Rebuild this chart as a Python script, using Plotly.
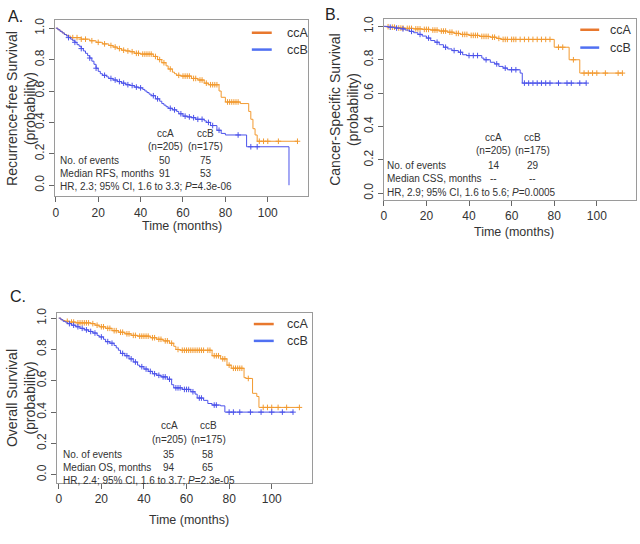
import numpy as np
import plotly.graph_objects as go

# ---------------- data ----------------
# Panel A: Recurrence-free survival
a_ccA_t = [1, 2, 3, 4, 5, 6, 7, 12, 16, 19, 22, 25, 27, 29, 31, 33, 35, 37, 40, 46, 48, 50, 52, 53, 55, 56, 57, 59, 64, 67, 70, 72, 77, 78, 80, 87, 91, 92, 93, 94, 95]
a_ccA_s = [.99, .98, .97, .96, .955, .95, .94, .93, .92, .91, .90, .89, .88, .87, .86, .855, .85, .84, .835, .82, .80, .78, .76, .74, .72, .71, .70, .695, .68, .67, .65, .64, .60, .56, .53, .52, .47, .42, .36, .32, .28]
a_ccA_c = [8, 10, 12, 14, 17, 20, 23, 26, 28, 30, 32, 34, 36, 38, 39, 41, 42, 43, 44, 45, 47, 49, 51, 54, 58, 60, 61, 62, 63, 65, 66, 68, 69, 71, 73, 74, 75, 76, 81, 82, 83, 84, 85, 86, 96, 98, 100, 105, 114]
a_ccB_t = [1, 2, 3, 4, 5, 6, 7, 8, 9, 10, 11, 12, 13, 14, 15, 16, 17, 18, 19, 20, 21, 22, 24, 25, 27, 29, 31, 33, 35, 37, 39, 41, 42, 43, 44, 45, 47, 49, 50, 51, 52, 53, 55, 57, 58, 60, 62, 64, 66, 70, 71, 73, 76, 78, 80, 90, 110]
a_ccB_s = [.99, .98, .97, .96, .95, .94, .93, .92, .91, .895, .885, .87, .855, .84, .825, .81, .79, .77, .745, .725, .71, .70, .69, .68, .67, .66, .65, .64, .635, .625, .62, .61, .60, .59, .58, .57, .55, .535, .52, .51, .50, .49, .48, .47, .455, .44, .435, .43, .42, .41, .40, .38, .35, .33, .32, .245, 0.0]
a_ccB_c = [6, 9, 12, 16, 19, 23, 26, 28, 30, 32, 34, 36, 38, 40, 46, 48, 54, 56, 59, 61, 63, 65, 67, 69, 72, 74, 77, 86, 92, 95]

# Panel B: Cancer-specific survival
b_ccA_t = [1, 3, 6, 10, 14, 18, 22, 26, 30, 33, 36, 40, 45, 50, 53, 55, 80, 87, 92]
b_ccA_s = [.998, .995, .99, .988, .985, .982, .978, .972, .965, .958, .952, .946, .94, .935, .928, .922, .875, .80, .72]
b_ccA_c = [2, 4, 5, 7, 8, 9, 11, 12, 13, 15, 16, 17, 19, 20, 21, 23, 24, 25, 27, 28, 29, 31, 32, 34, 35, 37, 38, 39, 41, 42, 43, 44, 46, 47, 48, 49, 51, 52, 54, 56, 57, 58, 60, 61, 62, 64, 66, 68, 70, 72, 74, 76, 78, 82, 84, 89, 94, 96, 98, 100, 104, 110, 112]
b_ccB_t = [2, 5, 8, 10, 12, 14, 16, 18, 20, 22, 24, 26, 28, 30, 32, 35, 37, 39, 46, 47, 50, 52, 54, 56, 58, 64, 65]
b_ccB_s = [.995, .99, .985, .978, .97, .962, .952, .942, .93, .915, .905, .89, .875, .865, .855, .845, .83, .825, .81, .80, .785, .775, .76, .75, .74, .72, .66]
b_ccB_c = [3, 6, 9, 13, 17, 21, 25, 29, 33, 36, 40, 42, 44, 48, 53, 57, 60, 62, 66, 68, 70, 72, 74, 76, 78, 82, 86, 88, 92, 95]

# Panel C: Overall survival
c_ccA_t = [1, 2, 3, 5, 8, 15, 17, 19, 22, 25, 28, 31, 34, 37, 43, 46, 49, 52, 54, 55, 57, 72, 76, 79, 81, 87, 88, 91, 93, 94]
c_ccA_s = [.99, .985, .98, .975, .97, .965, .955, .945, .935, .92, .91, .90, .89, .885, .875, .865, .855, .84, .82, .80, .795, .76, .74, .70, .68, .62, .615, .52, .50, .43]
c_ccA_c = [4, 6, 7, 9, 10, 11, 12, 13, 14, 16, 18, 20, 21, 23, 24, 26, 27, 29, 30, 32, 33, 35, 36, 38, 39, 40, 41, 42, 44, 45, 47, 48, 50, 51, 53, 56, 58, 59, 60, 61, 62, 63, 64, 65, 66, 67, 68, 70, 71, 73, 74, 75, 77, 78, 80, 82, 83, 84, 85, 86, 89, 96, 98, 100, 103, 107, 113]
c_ccB_t = [1, 2, 3, 4, 6, 8, 10, 12, 14, 16, 18, 19, 21, 22, 24, 26, 27, 28, 29, 31, 33, 35, 37, 38, 40, 42, 44, 46, 48, 51, 53, 54, 58, 62, 64, 65, 68, 70, 72, 76, 78]
c_ccB_s = [.99, .98, .975, .965, .955, .945, .935, .925, .915, .905, .89, .88, .865, .85, .84, .825, .81, .795, .775, .76, .74, .72, .70, .69, .675, .66, .645, .635, .625, .61, .575, .555, .545, .53, .515, .49, .475, .455, .445, .44, .40]
c_ccB_c = [5, 7, 9, 11, 13, 15, 17, 20, 23, 25, 30, 32, 34, 36, 39, 41, 43, 45, 47, 49, 50, 52, 55, 56, 57, 59, 60, 61, 63, 66, 67, 73, 74, 80, 82, 85, 90, 95, 100, 105, 110]

group_names = ["ccA", "ccB"]
n_labels = ["(n=205)", "(n=175)"]
y_titles = ["Recurrence-free Survival", "Cancer-Specific Survival", "Overall Survival"]
panel_letters = ["A.", "B.", "C."]
events = [["50", "75"], ["14", "29"], ["35", "58"]]
median_labels = ["Median RFS, months", "Median CSS, months", "Median OS, months"]
medians = [["91", "53"], ["--", "--"], ["94", "65"]]
hr_texts = ["HR, 2.3; 95% CI, 1.6 to 3.3; <i>P</i>=4.3e-06",
            "HR, 2.9; 95% CI, 1.6 to 5.6; <i>P</i>=0.0005",
            "HR, 2.4; 95% CI, 1.6 to 3.7; <i>P</i>=2.3e-05"]
x_ticks = [0, 20, 40, 60, 80, 100]
y_ticks = [0.0, 0.2, 0.4, 0.6, 0.8, 1.0]

curves = [
    [(a_ccA_t, a_ccA_s, a_ccA_c), (a_ccB_t, a_ccB_s, a_ccB_c)],
    [(b_ccA_t, b_ccA_s, b_ccA_c), (b_ccB_t, b_ccB_s, b_ccB_c)],
    [(c_ccA_t, c_ccA_s, c_ccA_c), (c_ccB_t, c_ccB_s, c_ccB_c)],
]

# ---------------- style / layout ----------------
W, H = 640, 544
FONT = "Liberation Sans, Arial, sans-serif"
curve_colors = ["#F29A30", "#4B52EA"]
legend_colors = ["#E8782E", "#5070F2"]
TXT = "#333333"

def px(x):
    return x / W

def py(y):
    return 1 - y / H

# panel boxes in pixels: left, right, top, bottom ; axis ranges
panels = [
    dict(box=(52, 306.5, 15, 193), xr=[-0.5, 119], yr=[-0.07, 1.053],
         ytl=18, xt=(180, 223), leg=(250, 270, 283, 28, 45), letter=(3, 12),
         txt=dict(left=55, cA=163, cB=203.5, ys=[129.5, 143, 157, 170.5, 183.5])),
    dict(box=(382.3, 636, 14, 196.7), xr=[-0.15, 118.4], yr=[-0.04, 1.045],
         ytl=343, xt=(513, 229), leg=(580, 599, 608, 25, 43), letter=(322, 10),
         txt=dict(left=384, cA=493, cB=532, ys=[133.3, 146.7, 161.7, 174.8, 189])),
    dict(box=(54.3, 310, 311, 482.5), xr=[-0.8, 118.7], yr=[-0.053, 1.032],
         ytl=18, xt=(187, 520), leg=(252, 272, 283, 322, 339), letter=(5, 294),
         txt=dict(left=58.3, cA=167, cB=206, ys=[424, 439, 453.3, 466.7, 479.5])),
]

fig = go.Figure()
annotations = []
shapes = []

def step_value(t_arr, s_arr, t):
    idx = np.searchsorted(np.asarray(t_arr), t, side="right") - 1
    s = np.asarray(s_arr, dtype=float)
    return np.where(idx >= 0, s[np.clip(idx, 0, None)], 1.0)

for i, (pan, crv) in enumerate(zip(panels, curves)):
    xa = "x" if i == 0 else f"x{i+1}"
    ya = "y" if i == 0 else f"y{i+1}"
    for g, (t, s, c) in enumerate(crv):
        tmax = max(max(t), max(c))
        xs = [0] + list(t) + [tmax]
        ys = [1.0] + list(s) + [s[-1]]
        fig.add_trace(go.Scatter(x=xs, y=ys, mode="lines", line=dict(color=curve_colors[g], width=1, shape="hv"),
                                 xaxis=xa, yaxis=ya, showlegend=False, hoverinfo="skip"))
        cy = step_value(t, s, np.asarray(c, dtype=float))
        fig.add_trace(go.Scatter(x=c, y=cy, mode="markers",
                                 marker=dict(symbol="cross-thin", size=4, line=dict(color=curve_colors[g], width=1)),
                                 xaxis=xa, yaxis=ya, showlegend=False, hoverinfo="skip"))
    l, r, t_, b = pan["box"]
    axis_common = dict(showgrid=False, zeroline=False, showline=True, mirror=True, linecolor="#9a9a9a", linewidth=1,
                       ticks="outside", ticklen=5, tickcolor="#666666", tickwidth=1,
                       tickfont=dict(family=FONT, size=12, color=TXT))
    fig.update_layout(**{
        ("xaxis" if i == 0 else f"xaxis{i+1}"): dict(domain=[px(l), px(r)], range=pan["xr"], anchor=ya,
                                                     tickvals=x_ticks, **axis_common),
        ("yaxis" if i == 0 else f"yaxis{i+1}"): dict(domain=[py(b), py(t_)], range=pan["yr"], anchor=xa,
                                                     tickvals=y_ticks, ticktext=[f"{v:.1f}" for v in y_ticks],
                                                     tickangle=-90, **axis_common),
    })
    # y title (two lines)
    yc = (t_ + b) / 2
    annotations.append(dict(text=y_titles[i] + "<br>(probability)", x=px(pan["ytl"]), y=py(yc),
                            xref="paper", yref="paper", textangle=-90, showarrow=False,
                            xanchor="center", yanchor="middle",
                            font=dict(family=FONT, size=14, color=TXT)))
    # x title
    annotations.append(dict(text="Time (months)", x=px(pan["xt"][0]), y=py(pan["xt"][1]), xref="paper", yref="paper",
                            showarrow=False, xanchor="center", yanchor="middle",
                            font=dict(family=FONT, size=12.5, color=TXT)))
    # panel letter
    annotations.append(dict(text=panel_letters[i], x=px(pan["letter"][0]), y=py(pan["letter"][1]),
                            xref="paper", yref="paper", showarrow=False, xanchor="left", yanchor="middle",
                            font=dict(family=FONT, size=16, color="#222222")))
    # legend
    lx0, lx1, ltx, ly1, ly2 = pan["leg"]
    for g, ly in enumerate([ly1, ly2]):
        shapes.append(dict(type="line", xref="paper", yref="paper", x0=px(lx0), x1=px(lx1), y0=py(ly), y1=py(ly),
                           line=dict(color=legend_colors[g], width=2.5)))
        annotations.append(dict(text=group_names[g], x=px(ltx), y=py(ly), xref="paper", yref="paper",
                                showarrow=False, xanchor="left", yanchor="middle",
                                font=dict(family=FONT, size=12.5, color=TXT)))
    # inner table text
    tx = pan["txt"]
    ys_ = tx["ys"]
    f = dict(family=FONT, size=10, color=TXT)
    for g, colx in enumerate([tx["cA"], tx["cB"]]):
        for row, val in enumerate([group_names[g], n_labels[g], events[i][g], medians[i][g]]):
            annotations.append(dict(text=val, x=px(colx), y=py(ys_[row]), xref="paper", yref="paper",
                                    showarrow=False, xanchor="center", yanchor="middle", font=f))
    for row, val in [(2, "No. of events"), (3, median_labels[i]), (4, hr_texts[i])]:
        annotations.append(dict(text=val, x=px(tx["left"]), y=py(ys_[row]), xref="paper", yref="paper",
                                showarrow=False, xanchor="left", yanchor="middle", font=f))

fig.update_layout(width=W, height=H, margin=dict(l=0, r=0, t=0, b=0), paper_bgcolor="white", plot_bgcolor="white",
                  showlegend=False, annotations=annotations, shapes=shapes)
fig.write_html("out.html")
